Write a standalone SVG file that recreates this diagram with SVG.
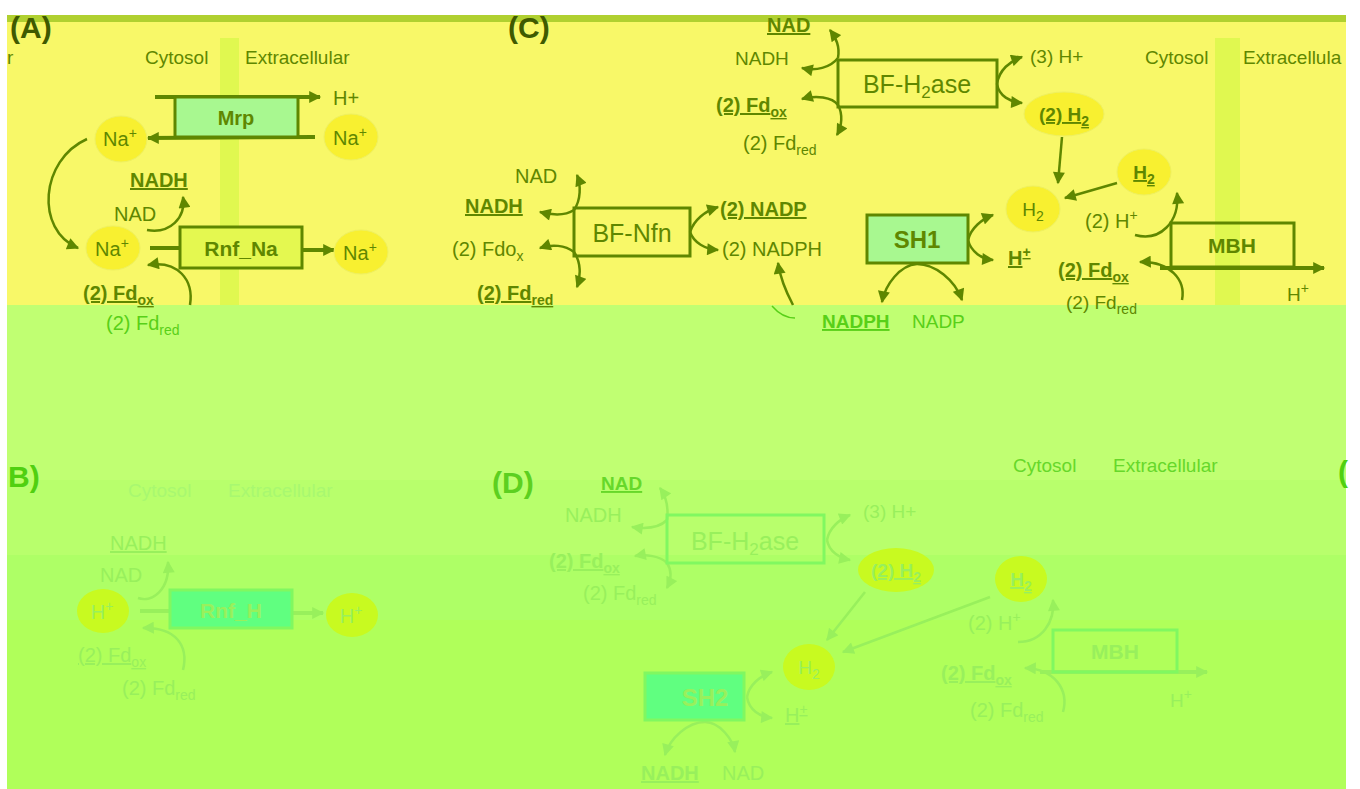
<svg xmlns="http://www.w3.org/2000/svg" width="1360" height="789" viewBox="0 0 1360 789">
<style>
text{font-family:"Liberation Sans",Arial,sans-serif;font-size:20px;fill:#5f8700}
.b{font-weight:bold}
.u{text-decoration:underline}
.m{text-anchor:middle}
.lab{font-weight:bold;font-size:30px;fill:#3f5a00}
.mem{font-size:19px}
.big{font-size:25px}
.g{fill:#58d018}
.gm{fill:#66d82a}
.f{fill:#98f05c}
.ff{fill:#a8f870}
.s{font-size:14px}
.line{fill:none;stroke:#5f8700;stroke-width:2.5}
.thick{fill:none;stroke:#5f8700;stroke-width:4}
.fl{fill:none;stroke:#98f05c;stroke-width:2.5}
.fthick{fill:none;stroke:#98f05c;stroke-width:4}
.box{stroke:#5f8700;stroke-width:3}
.fbox{stroke:#80f860;stroke-width:3}
.ion{fill:#f8f030;stroke:#eef060;stroke-width:1}
.fion{fill:#c8fa20}
</style>
<defs>
<marker id="ah" viewBox="0 0 10 10" refX="9" refY="5" markerWidth="13" markerHeight="12" markerUnits="userSpaceOnUse" orient="auto"><path d="M0,0 L10,5 L0,10 z" fill="#5f8700"/></marker>
<marker id="af" viewBox="0 0 10 10" refX="9" refY="5" markerWidth="13" markerHeight="12" markerUnits="userSpaceOnUse" orient="auto"><path d="M0,0 L10,5 L0,10 z" fill="#98f05c"/></marker>
</defs>
<rect width="1360" height="789" fill="#ffffff"/>
<g id="background">
<rect x="7" y="15" width="1339" height="7" fill="#b0d030"/>
<rect x="7" y="22" width="1339" height="283" fill="#f8f868"/>
<rect x="7" y="305" width="1339" height="175" fill="#c0ff72"/>
<rect x="7" y="480" width="1339" height="75" fill="#b8ff6c"/>
<rect x="7" y="555" width="1339" height="65" fill="#aeff66"/>
<rect x="7" y="620" width="1339" height="169" fill="#b0ff5a"/>
<rect x="220" y="38" width="19" height="267" fill="#e0f850"/>
<rect x="1215" y="38" width="25" height="267" fill="#e0f850"/>
</g>
<g id="labels">
<text x="10" y="38" class="lab">(A)</text>
<text x="508" y="38" class="lab">(C)</text>
<text x="8" y="487" class="lab" style="fill:#50d010">B)</text>
<text x="492" y="493" class="lab" style="fill:#5cd020">(D)</text>
<text x="1338" y="482" class="lab" style="fill:#50d010">(</text>
<text x="7" y="64" class="mem">r</text>
<text x="145" y="64" class="mem">Cytosol</text>
<text x="245" y="64" class="mem">Extracellular</text>
<text x="1145" y="64" class="mem">Cytosol</text>
<text x="1243" y="64" class="mem">Extracellula</text>
<text x="128" y="497" class="mem ff">Cytosol</text>
<text x="228" y="497" class="mem ff">Extracellular</text>
<text x="1013" y="472" class="mem gm">Cytosol</text>
<text x="1113" y="472" class="mem gm">Extracellular</text>
</g>
<g id="connectors">
<path class="thick" d="M155,97 L320,97" marker-end="url(#ah)"/>
<path class="thick" d="M315,137 L148,138" marker-end="url(#ah)"/>
<path class="line" d="M87,139 C40,160 35,230 78,248" marker-end="url(#ah)"/>
<path class="line" d="M147,230 C170,234 186,218 183,197" marker-end="url(#ah)"/>
<path class="thick" d="M150,248 L180,248"/>
<path class="thick" d="M302,250 L334,250" marker-end="url(#ah)"/>
<path class="line" d="M190,305 C194,280 178,260 148,265" marker-end="url(#ah)"/>
<path class="line" d="M838,58 C840,46 836,38 830,30" marker-end="url(#ah)"/>
<path class="line" d="M838,58 C830,68 816,71 802,68" marker-end="url(#ah)"/>
<path class="line" d="M838,105 C832,97 816,95 802,99" marker-end="url(#ah)"/>
<path class="line" d="M838,105 C843,114 842,126 837,135" marker-end="url(#ah)"/>
<path class="line" d="M997,84 C999,70 1010,61 1022,57" marker-end="url(#ah)"/>
<path class="line" d="M997,84 C999,96 1010,102 1022,103" marker-end="url(#ah)"/>
<path class="line" d="M1062,137 L1058,183" marker-end="url(#ah)"/>
<path class="line" d="M1117,183 L1065,198" marker-end="url(#ah)"/>
<path class="line" d="M574,210 C581,200 581,185 577,175" marker-end="url(#ah)"/>
<path class="line" d="M574,210 C565,216 552,215 540,212" marker-end="url(#ah)"/>
<path class="line" d="M574,252 C565,245 552,244 540,248" marker-end="url(#ah)"/>
<path class="line" d="M574,252 C581,262 581,276 577,287" marker-end="url(#ah)"/>
<path class="line" d="M690,232 C694,220 705,211 718,207" marker-end="url(#ah)"/>
<path class="line" d="M690,232 C694,243 705,249 718,250" marker-end="url(#ah)"/>
<path class="line" d="M793,305 C785,290 780,276 778,263" marker-end="url(#ah)"/>
<path d="M772,306 C778,313 786,318 795,318" fill="none" stroke="#58d018" stroke-width="1.5"/>
<path class="line" d="M968,240 C971,228 982,219 993,215" marker-end="url(#ah)"/>
<path class="line" d="M968,240 C971,252 982,259 993,260" marker-end="url(#ah)"/>
<path class="line" d="M917,264 C900,265 885,285 882,302" marker-end="url(#ah)"/>
<path class="line" d="M917,264 C935,264 955,280 962,300" marker-end="url(#ah)"/>
<path class="line" d="M1135,235 C1160,242 1180,222 1177,193" marker-end="url(#ah)"/>
<path class="thick" d="M1160,268 L1324,268" marker-end="url(#ah)"/>
<path class="line" d="M1182,300 C1186,280 1170,261 1140,262" marker-end="url(#ah)"/>
<path class="fl" d="M138,598 C152,603 170,590 168,562" marker-end="url(#af)"/>
<path class="fthick" d="M140,611 L170,611"/>
<path class="fthick" d="M292,613 L323,613" marker-end="url(#af)"/>
<path class="fl" d="M183,670 C189,645 175,627 143,628" marker-end="url(#af)"/>
<path class="fl" d="M667,520 C669,505 665,495 660,488" marker-end="url(#af)"/>
<path class="fl" d="M667,520 C658,529 645,529 632,527" marker-end="url(#af)"/>
<path class="fl" d="M667,563 C660,556 646,554 635,556" marker-end="url(#af)"/>
<path class="fl" d="M667,563 C673,572 671,580 667,588" marker-end="url(#af)"/>
<path class="fl" d="M827,540 C829,528 840,519 850,515" marker-end="url(#af)"/>
<path class="fl" d="M827,540 C829,552 840,558 850,560" marker-end="url(#af)"/>
<path class="fl" d="M865,592 L827,640" marker-end="url(#af)"/>
<path class="fl" d="M990,597 L843,652" marker-end="url(#af)"/>
<path class="fl" d="M747,697 C749,685 760,676 772,672" marker-end="url(#af)"/>
<path class="fl" d="M747,697 C749,710 760,717 772,718" marker-end="url(#af)"/>
<path class="fl" d="M705,722 C688,722 670,738 665,755" marker-end="url(#af)"/>
<path class="fl" d="M705,722 C720,722 733,740 735,752" marker-end="url(#af)"/>
<path class="fl" d="M1018,642 C1042,642 1055,622 1053,600" marker-end="url(#af)"/>
<path class="fthick" d="M1040,672 L1207,672" marker-end="url(#af)"/>
<path class="fl" d="M1063,712 C1069,690 1055,669 1025,668" marker-end="url(#af)"/>
</g>
<g id="mrp">
<rect x="175" y="97" width="123" height="40" fill="#a8f890" class="box"/>
<text x="236" y="125" class="b m">Mrp</text>
</g>
<g id="h-plus-a"><text x="333" y="105">H+</text></g>
<g id="na-1"><ellipse cx="121" cy="139" rx="26" ry="23" class="ion"/><text x="120" y="146" class="m">Na<tspan class="s" dy="-8">+</tspan></text></g>
<g id="na-2"><ellipse cx="351" cy="137" rx="27" ry="23" class="ion"/><text x="350" y="145" class="m">Na<tspan class="s" dy="-8">+</tspan></text></g>
<g id="na-3"><ellipse cx="113" cy="248" rx="27" ry="22" class="ion"/><text x="112" y="256" class="m">Na<tspan class="s" dy="-8">+</tspan></text></g>
<g id="na-4"><ellipse cx="361" cy="252" rx="27" ry="22" class="ion"/><text x="360" y="260" class="m">Na<tspan class="s" dy="-8">+</tspan></text></g>
<g id="nadh-a"><text x="130" y="187" class="b u">NADH</text></g>
<g id="nad-a"><text x="114" y="221">NAD</text></g>
<g id="rnf-na">
<rect x="180" y="227" width="122" height="41" fill="#e4f850" class="box"/>
<text x="241" y="256" class="b m" style="font-size:21px">Rnf_Na</text>
</g>
<g id="fdox-a"><text x="83" y="300" class="b u">(2) Fd<tspan class="s" dy="5">ox</tspan></text></g>
<g id="fdred-a"><text x="106" y="330" class="g">(2) Fd<tspan class="s" dy="5">red</tspan></text></g>
<g id="nad-c1"><text x="767" y="32" class="b u">NAD</text></g>
<g id="nadh-c1"><text x="735" y="65" style="font-size:19px">NADH</text></g>
<g id="bf-h2ase-c">
<rect x="838" y="60" width="159" height="47" fill="none" class="box"/>
<text x="917" y="93" class="m big">BF-H<tspan class="s" dy="5" style="font-size:17px">2</tspan><tspan dy="-5">ase</tspan></text>
</g>
<g id="fdox-c1"><text x="716" y="112" class="b u">(2) Fd<tspan class="s" dy="5">ox</tspan></text></g>
<g id="fdred-c1"><text x="743" y="150">(2) Fd<tspan class="s" dy="5">red</tspan></text></g>
<g id="h3-c"><text x="1030" y="63" style="font-size:19px">(3) H+</text></g>
<g id="h2-2c"><ellipse cx="1064" cy="114" rx="40" ry="22" class="ion"/><text x="1064" y="121" class="b u m" style="font-size:19px">(2) H<tspan class="s" dy="5">2</tspan></text></g>
<g id="h2-ext-c"><ellipse cx="1144" cy="172" rx="27" ry="23" class="ion"/><text x="1144" y="179" class="b u m" style="font-size:19px">H<tspan class="s" dy="5">2</tspan></text></g>
<g id="h2-c"><ellipse cx="1033" cy="209" rx="27" ry="23" class="ion"/><text x="1033" y="216" class="m" style="font-size:19px">H<tspan class="s" dy="5">2</tspan></text></g>
<g id="bf-nfn">
<rect x="574" y="208" width="116" height="48" fill="none" class="box"/>
<text x="632" y="242" class="m big">BF-Nfn</text>
</g>
<g id="nad-c2"><text x="515" y="183">NAD</text></g>
<g id="nadh-c2"><text x="465" y="213" class="b u">NADH</text></g>
<g id="fdox-c2"><text x="452" y="256">(2) Fdo<tspan class="s" dy="5">x</tspan></text></g>
<g id="fdred-c2"><text x="477" y="300" class="b u">(2) Fd<tspan class="s" dy="5">red</tspan></text></g>
<g id="nadp-c"><text x="720" y="216" class="b u">(2) NADP</text></g>
<g id="nadph-c"><text x="722" y="256">(2) NADPH</text></g>
<g id="sh1">
<rect x="867" y="215" width="101" height="48" fill="#a8f890" class="box"/>
<text x="917" y="248" class="b m" style="font-size:24px">SH1</text>
</g>
<g id="hplus-c"><text x="1008" y="265" class="b u">H<tspan class="s" dy="-8">+</tspan></text></g>
<g id="nadph-c2"><text x="822" y="328" class="b u g" style="font-size:19px">NADPH</text></g>
<g id="nadp-c2"><text x="912" y="328" class="g" style="font-size:19px">NADP</text></g>
<g id="h2plus-c"><text x="1085" y="228">(2) H<tspan class="s" dy="-8">+</tspan></text></g>
<g id="mbh-c">
<rect x="1171" y="223" width="123" height="44" fill="none" class="box"/>
<text x="1232" y="253" class="b m" style="font-size:21px">MBH</text>
</g>
<g id="fdox-c3"><text x="1058" y="277" class="b u">(2) Fd<tspan class="s" dy="5">ox</tspan></text></g>
<g id="fdred-c3"><text x="1066" y="309" style="font-size:19px">(2) Fd<tspan class="s" dy="5">red</tspan></text></g>
<g id="hplus-c2"><text x="1287" y="301" style="font-size:19px">H<tspan class="s" dy="-8">+</tspan></text></g>
<g id="nadh-b"><text x="110" y="550" class="u f">NADH</text></g>
<g id="nad-b"><text x="100" y="582" class="f">NAD</text></g>
<g id="h-b1"><ellipse cx="103" cy="611" rx="26" ry="22" class="fion"/><text x="102" y="619" class="m f">H<tspan class="s" dy="-8">+</tspan></text></g>
<g id="rnf-h">
<rect x="170" y="590" width="122" height="38" fill="#60ff80" class="fbox"/>
<text x="231" y="618" class="b m f" style="font-size:21px">Rnf_H</text>
</g>
<g id="h-b2"><ellipse cx="352" cy="615" rx="26" ry="22" class="fion"/><text x="351" y="623" class="m f">H<tspan class="s" dy="-8">+</tspan></text></g>
<g id="fdox-b"><text x="78" y="662" class="u f">(2) Fd<tspan class="s" dy="5">ox</tspan></text></g>
<g id="fdred-b"><text x="122" y="695" class="f">(2) Fd<tspan class="s" dy="5">red</tspan></text></g>
<g id="nad-d1"><text x="601" y="490" class="b u gm" style="font-size:19px">NAD</text></g>
<g id="nadh-d1"><text x="565" y="522" class="f">NADH</text></g>
<g id="bf-h2ase-d">
<rect x="667" y="515" width="157" height="48" fill="none" class="fbox"/>
<text x="745" y="550" class="m big f">BF-H<tspan dy="5" style="font-size:17px">2</tspan><tspan dy="-5">ase</tspan></text>
</g>
<g id="fdox-d1"><text x="549" y="568" class="b u f">(2) Fd<tspan class="s" dy="5">ox</tspan></text></g>
<g id="fdred-d1"><text x="583" y="600" class="f">(2) Fd<tspan class="s" dy="5">red</tspan></text></g>
<g id="h3-d"><text x="863" y="518" class="f" style="font-size:19px">(3) H+</text></g>
<g id="h2-2d"><ellipse cx="896" cy="570" rx="38" ry="22" class="fion"/><text x="896" y="577" class="b u m f" style="font-size:19px">(2) H<tspan class="s" dy="5">2</tspan></text></g>
<g id="h2-d"><ellipse cx="809" cy="667" rx="26" ry="23" class="fion"/><text x="809" y="674" class="m f" style="font-size:19px">H<tspan class="s" dy="5">2</tspan></text></g>
<g id="h2-ext-d"><ellipse cx="1021" cy="579" rx="26" ry="23" class="fion"/><text x="1021" y="586" class="b u m f" style="font-size:19px">H<tspan class="s" dy="5">2</tspan></text></g>
<g id="sh2">
<rect x="645" y="673" width="99" height="47" fill="#60ff80" class="fbox"/>
<text x="705" y="706" class="b m f" style="font-size:24px">SH2</text>
</g>
<g id="hplus-d"><text x="785" y="722" class="u f">H<tspan class="s" dy="-8">+</tspan></text></g>
<g id="nadh-d2"><text x="641" y="780" class="b u f">NADH</text></g>
<g id="nad-d2"><text x="722" y="780" class="f">NAD</text></g>
<g id="h2plus-d"><text x="968" y="630" class="f">(2) H<tspan class="s" dy="-8">+</tspan></text></g>
<g id="mbh-d">
<rect x="1053" y="630" width="124" height="42" fill="none" class="fbox"/>
<text x="1115" y="659" class="b m f" style="font-size:21px">MBH</text>
</g>
<g id="fdox-d2"><text x="941" y="680" class="b u f">(2) Fd<tspan class="s" dy="5">ox</tspan></text></g>
<g id="fdred-d2"><text x="970" y="717" class="f">(2) Fd<tspan class="s" dy="5">red</tspan></text></g>
<g id="hplus-d2"><text x="1170" y="707" class="f" style="font-size:19px">H<tspan class="s" dy="-8">+</tspan></text></g>
</svg>
